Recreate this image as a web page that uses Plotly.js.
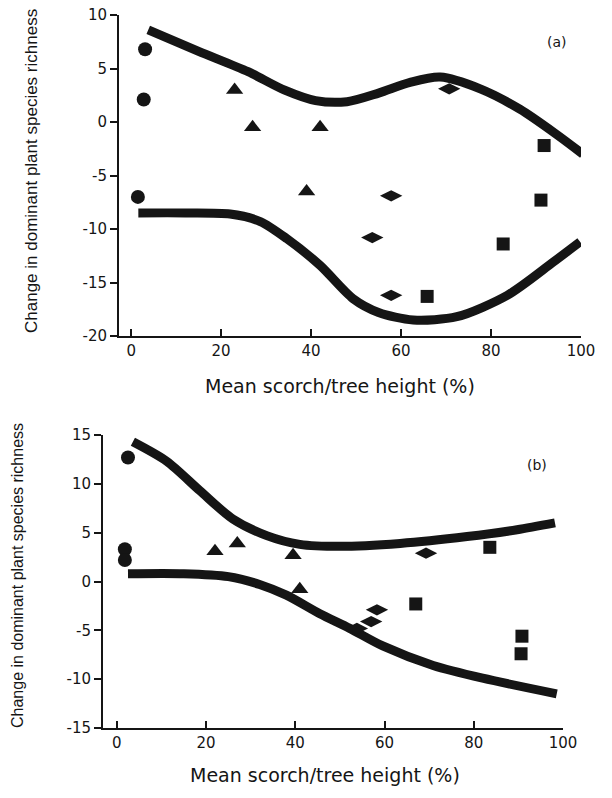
<!DOCTYPE html>
<html><head><meta charset="utf-8">
<script src="https://cdn.plot.ly/plotly-3.0.1.min.js"></script>
<style>body{margin:0;background:#fff}#plot{width:612px;height:798px}</style>
</head><body><div id="plot"></div>
<script>
// Panel (a)
const aCircleX = [3.1, 2.8, 1.5];
const aCircleY = [6.8, 2.1, -7.0];
const aTriX = [23, 27, 42, 39];
const aTriY = [3.0, -0.5, -0.5, -6.5];
const aDiaX = [70.7, 57.8, 53.6, 57.8];
const aDiaY = [3.1, -6.9, -10.8, -16.2];
const aSqX = [91.8, 91.1, 82.7, 65.8];
const aSqY = [-2.2, -7.3, -11.4, -16.3];
const aUpperX = [3.8, 15, 26, 34, 41, 48, 55, 62, 68.7, 77.6, 86.4, 94.7, 100.4];
const aUpperY = [8.6, 6.6, 4.7, 3.0, 2.0, 1.9, 2.7, 3.7, 4.2, 3.1, 1.2, -1.2, -3.0];
const aLowerX = [1.6, 12, 22, 28.7, 34.6, 42, 49.3, 55, 62.7, 72.4, 83.6, 93.8, 99.8];
const aLowerY = [-8.5, -8.5, -8.6, -9.3, -10.9, -13.4, -16.5, -17.8, -18.5, -18.2, -16.2, -13.1, -11.2];
// Panel (b)
const bCircleX = [2.5, 1.8, 1.8];
const bCircleY = [12.7, 3.3, 2.2];
const bTriX = [22, 27, 39.5, 41];
const bTriY = [3.1, 3.9, 2.7, -0.8];
const bDiaX = [69.3, 58.3, 57, 53.8];
const bDiaY = [2.9, -2.9, -4.1, -4.8];
const bSqX = [83.6, 67, 90.8, 90.6];
const bSqY = [3.5, -2.3, -5.6, -7.4];
const bUpperX = [3.6, 11.2, 18.6, 26, 33.6, 41, 50, 63.5, 78.5, 89.7, 98.2];
const bUpperY = [14.3, 12.3, 9.3, 6.4, 4.7, 3.8, 3.6, 3.9, 4.6, 5.3, 6.0];
const bLowerX = [2.5, 15, 25, 32, 38, 45.5, 52.2, 59.6, 70.9, 82, 98.6];
const bLowerY = [0.8, 0.8, 0.5, -0.3, -1.4, -3.3, -4.8, -6.6, -8.6, -9.9, -11.5];

const xTicks = [0, 20, 40, 60, 80, 100];
const aYTicks = [-20, -15, -10, -5, 0, 5, 10];
const bYTicks = [-15, -10, -5, 0, 5, 10, 15];
const xTitle = 'Mean scorch/tree height (%)';
const yTitle = 'Change in dominant plant species richness';

const K = '#151515';
function pts(x, y, sym, size, xa, ya) {
  return {x, y, mode: 'markers', type: 'scatter', xaxis: xa, yaxis: ya,
    marker: {symbol: sym, size: size, color: K}, showlegend: false, hoverinfo: 'skip'};
}
function curve(x, y, xa, ya) {
  return {x, y, mode: 'lines', type: 'scatter', xaxis: xa, yaxis: ya,
    line: {shape: 'spline', smoothing: 0.8, width: 9, color: K}, showlegend: false, hoverinfo: 'skip'};
}
const data = [
  curve(aUpperX, aUpperY, 'x', 'y'), curve(aLowerX, aLowerY, 'x', 'y'),
  pts(aCircleX, aCircleY, 'circle', 14, 'x', 'y'),
  pts(aTriX, aTriY, 'triangle-up', 15, 'x', 'y'),
  pts(aDiaX, aDiaY, 'diamond-wide', 16, 'x', 'y'),
  pts(aSqX, aSqY, 'square', 13, 'x', 'y'),
  curve(bUpperX, bUpperY, 'x2', 'y2'), curve(bLowerX, bLowerY, 'x2', 'y2'),
  pts(bCircleX, bCircleY, 'circle', 14, 'x2', 'y2'),
  pts(bTriX, bTriY, 'triangle-up', 15, 'x2', 'y2'),
  pts(bDiaX, bDiaY, 'diamond-wide', 16, 'x2', 'y2'),
  pts(bSqX, bSqY, 'square', 13, 'x2', 'y2')
];
const tickFont = {family: 'DejaVu Sans, sans-serif', size: 15, color: K};
function xax(dom, anchor, range) {
  return {domain: dom, anchor: anchor, range: range, tickvals: xTicks, ticktext: xTicks.map(String),
    ticks: 'inside', ticklen: 7, tickwidth: 2, tickcolor: K, showline: true, linecolor: K, linewidth: 2,
    showgrid: false, zeroline: false, tickfont: tickFont, fixedrange: true};
}
function yax(dom, anchor, ticks, range) {
  return {domain: dom, anchor: anchor, range: range, tickvals: ticks, ticktext: ticks.map(String),
    ticks: 'outside', ticklen: 7, tickwidth: 2, tickcolor: K, showline: true, linecolor: K, linewidth: 2,
    showgrid: false, zeroline: false, tickfont: tickFont, fixedrange: true};
}
const titleFontX = {family: 'DejaVu Sans, sans-serif', size: 19, color: K};
const titleFontYa = {family: 'Liberation Sans Narrow, Arial Narrow, Liberation Sans, sans-serif', size: 17, color: K};
const titleFontYb = {family: 'Liberation Sans Narrow, Arial Narrow, Liberation Sans, sans-serif', size: 16, color: K};
function ann(text, px, py, font, angle) {
  return {text: text, x: px/612, y: 1-py/798, xref: 'paper', yref: 'paper', showarrow: false,
    xanchor: 'center', yanchor: 'middle', textangle: angle || 0, font: font};
}
const layout = {
  width: 612, height: 798, margin: {l: 0, r: 0, t: 0, b: 0}, showlegend: false,
  paper_bgcolor: '#fff', plot_bgcolor: 'rgba(0,0,0,0)',
  xaxis: xax([119/612, 581/612], 'y', [-2.7, 100]),
  yaxis: yax([1-336/798, 1-15/798], 'x', aYTicks, [-20, 10]),
  xaxis2: xax([103/612, 563/612], 'y2', [-3.1, 100]),
  yaxis2: yax([1-728/798, 1-435/798], 'x2', bYTicks, [-15, 15]),
  annotations: [
    ann('(a)', 557, 42, {family: 'DejaVu Sans, sans-serif', size: 14, color: K}),
    ann('(b)', 537, 465, {family: 'DejaVu Sans, sans-serif', size: 14, color: K}),
    ann(xTitle, 340, 386, titleFontX),
    ann(xTitle, 325, 775, titleFontX),
    ann(yTitle, 31, 171, titleFontYa, -90),
    ann(yTitle, 17, 576, titleFontYb, -90)
  ]
};
Plotly.newPlot('plot', data, layout, {staticPlot: true});
</script></body></html>
